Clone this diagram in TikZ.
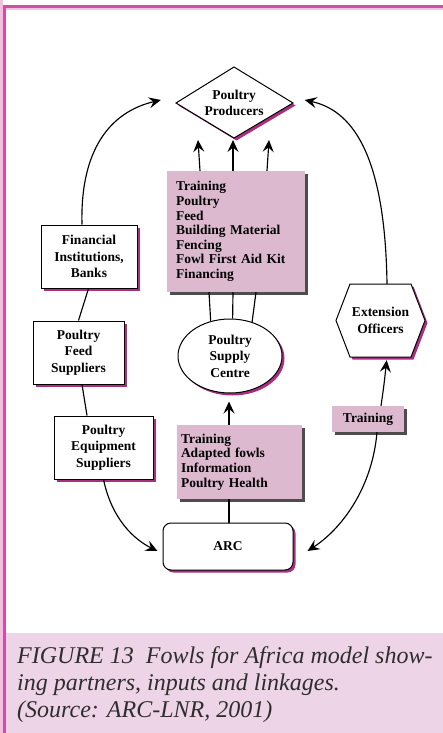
\documentclass[tikz,border=0pt]{standalone}
\usepackage{fontspec}
\setmainfont{Liberation Serif}
\usetikzlibrary{shapes.geometric,shadows,arrows.meta}
\definecolor{pinkfill}{HTML}{DDB9D0}
\definecolor{grayshadow}{HTML}{4D4D4D}
\definecolor{magshadow}{HTML}{A8307F}
\definecolor{framemag}{HTML}{D04FA5}
\definecolor{framelight}{HTML}{EFC3DF}
\definecolor{capfill}{HTML}{EED4E7}
\definecolor{captext}{HTML}{2E2E2E}
\begin{document}
\begin{tikzpicture}[x=1pt,y=-1pt,
  lbl/.style={font=\fontsize{13.5}{16.5}\selectfont\bfseries, align=center, inner sep=0pt},
  magshad/.style={drop shadow={shadow xshift=2.5pt, shadow yshift=-2.5pt, fill=magshadow, opacity=1}},
  whitebox/.style={lbl, draw=black, fill=white, line width=1pt, magshad},
  pinkbox/.style={font=\fontsize{13.5}{14.6}\selectfont\bfseries, align=left, fill=pinkfill, inner ysep=0pt,
    drop shadow={shadow xshift=3pt, shadow yshift=-3pt, fill=grayshadow, opacity=1}},
  link/.style={line width=1.15pt},
  arr/.style={link, -{Stealth[length=12pt,width=11pt,inset=4.5pt]}},
]
\useasboundingbox (0,0) rectangle (443,733);
% frame
\fill[framelight] (0,0) rectangle (3,733);
\fill[framelight] (6,8) rectangle (443,10);
\fill[framemag] (3,5.5) rectangle (6,733);
\fill[framemag] (3,5.5) rectangle (443,8);
% caption
\fill[capfill] (6,633) rectangle (443,733);
\node[anchor=north west, align=left, inner sep=0pt, text=captext,
      font=\fontsize{24}{27}\selectfont\itshape] (cap) at (17,646)
  {FIGURE 13\ \ Fowls for Africa model show-\\ing partners, inputs and linkages.\\(Source: ARC-LNR, 2001)};

% Poultry Producers diamond
\draw[line width=1pt, fill=white, magshad] (176,103) -- (234,67) -- (293,103) -- (234,138) -- cycle;
\node[lbl, minimum width=117pt, minimum height=71pt] (prod) at (234,103) {Poultry\\Producers};

% inputs box
\node[pinkbox, minimum width=138pt, minimum height=121pt, text width=120pt, inner xsep=9pt] (inputs) at (236,231.5)
  {Training\\Poultry\\Feed\\Building Material\\Fencing\\Fowl First Aid Kit\\Financing};

% left boxes
\node[whitebox, minimum width=96pt, minimum height=63pt] (fin) at (89,256.5) {Financial\\Institutions,\\Banks};
\node[whitebox, minimum width=91pt, minimum height=63pt] (feed) at (78.5,352.5) {Poultry\\Feed\\Suppliers};
\node[whitebox, minimum width=99pt, minimum height=63pt] (equip) at (103.5,447.5) {Poultry\\Equipment\\Suppliers};

% supply centre
\node[whitebox, ellipse, minimum width=104pt, minimum height=74pt] (psc) at (230,356) {Poultry\\Supply\\Centre};

% extension officers hexagon
\draw[line width=1pt, fill=white, magshad] (336,320.5) -- (350,284) -- (411,284) -- (425,320.5) -- (411,357) -- (350,357) -- cycle;
\node[lbl, minimum width=89pt, minimum height=73pt] (ext) at (380.5,320.5) {Extension\\Officers};

% training box
\node[pinkbox, minimum width=72pt, minimum height=26pt, align=center, inner xsep=0pt] (train) at (368,419) {Training};

% lower inputs
\node[pinkbox, minimum width=125pt, minimum height=74pt, text width=117pt, inner xsep=4pt] (sup) at (239.5,462)
  {Training\\Adapted fowls\\Information\\Poultry Health};

% ARC
\node[whitebox, rounded corners=8pt, minimum width=130pt, minimum height=47pt] (arc) at (228,546.5) {ARC};

% arrow end points
\coordinate (t1) at (198,140);
\coordinate (t2) at (233,140);
\coordinate (t3) at (269,140);

% connectors
\draw[arr] ([xshift=-36pt]inputs.north) -- (t1);
\draw[arr] ([xshift=-3pt]inputs.north) -- (t2);
\draw[arr] ([xshift=31pt]inputs.north) -- (t3);

\draw[link] ([xshift=-27pt]inputs.south) -- (psc.119);
\draw[link] ([xshift=-3pt]inputs.south) -- (psc.86);
\draw[link] ([xshift=20pt]inputs.south) -- (psc.57);

\draw[arr, shorten >=8pt] ([xshift=-10.5pt]sup.north) -- ([xshift=-1pt]psc.south);
\draw[link] ([xshift=-10.5pt]sup.south) -- ([xshift=1pt]arc.north);

\draw[link] ([xshift=-0.5pt]fin.south) -- (feed.north);
\draw[link] ([xshift=3.5pt]feed.south) .. controls (84,400) .. ([xshift=-16.5pt]equip.north);

\draw[arr] ([xshift=-7pt]fin.north) .. controls (80,150) and (110,112) .. ([xshift=-14.5pt,yshift=3pt]prod.west);
\draw[arr] ([xshift=6.5pt]ext.north) .. controls (385,150) and (350,110) .. ([xshift=12pt,yshift=3pt]prod.east);

\draw[arr] (equip.south) .. controls (112,520) and (135,540) .. ([xshift=-5pt,yshift=-4.5pt]arc.west);
\draw[arr, shorten >=3pt] ([xshift=13pt]train.north) .. controls (384,385) .. ([xshift=6.5pt]ext.south);
\draw[arr] ([xshift=9pt]train.south) .. controls (372,490) and (340,530) .. ([xshift=14pt,yshift=-4.5pt]arc.east);
\end{tikzpicture}
\end{document}
